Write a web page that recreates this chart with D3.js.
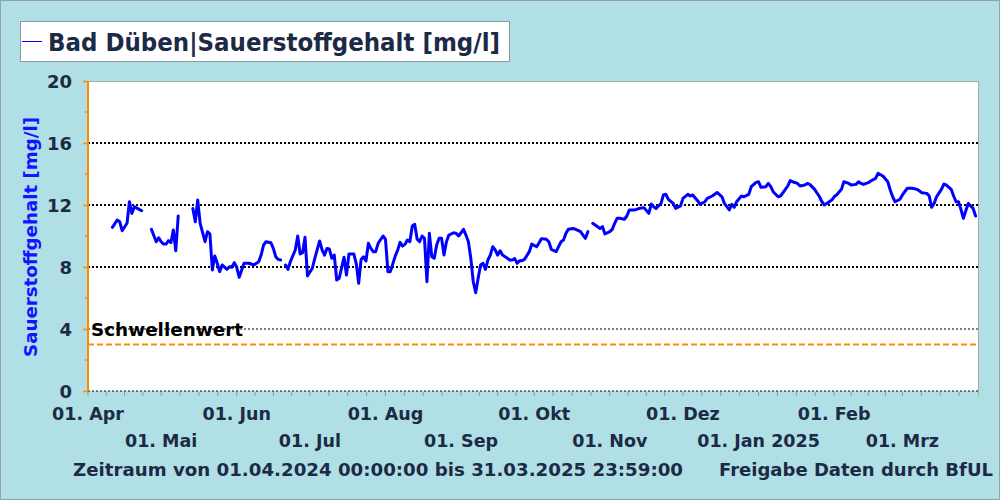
<!DOCTYPE html>
<html><head><meta charset="utf-8">
<script src="https://cdn.jsdelivr.net/npm/d3@7"></script>
<style>body{margin:0;background:#b0dfe5}svg{display:block;font-family:"DejaVu Sans",Verdana,sans-serif;font-weight:bold}</style>
</head><body><svg id="c" width="1000" height="500"></svg>
<script>
// ---- data ----
const startDate = "2024-04-01";
const endDate = "2025-04-01";
// day offset from 01.04.2024 (null value = gap in data)
const days = [10,12,13,14,16,17,18,19,21,22, 24,
 26,28,29,30,31,32,33,34,35,36,37, 40,
 43,44,45,46,48,49,50,51,52,53,54,55,57,58,59,60,61,62,64,65,66,68,70,71,72,73,75,76,77,78,79, 80,
 81,82,83,85,86,87,88,89,90,92,93,95,96,97,98,99,100,101,102,103,105,106,107,109,110,111,112,113,114,115,116,117,118,119,121,122,123,124,126,127,
 128,129,130,131,132,133,134,135,136,137,138,139,140,141,142,143,144,145,146,147,148,150,151,152,154,155,156,157,158,159,160,161,162,163,164,165,166,167,168,169,170,172,173,174,175,176,177,178,179,181,182,184,185,186,188,189,190,192,193,194,195,196,197,199,200,202,203,204,205, 206,
 207,208,209,210,211,212,214,215,216,217,218,220,221,222,224,225,226,228,230,231,232,233,235,236,237,238,240,241,243,244,246,247,248,250,251,
 253,254,256,258,260,261,263,264,265,266,268,269,271,272,274,275,276,278,279,280,281,283,284,285,287,288,289,291,292,294,295,296,298,300,301,302,304,305,306,307,309,310,312,313,315,316,317,318,320,321,323,324,326,328,329,330,331,333,334,336,338,340,342,344,345,346,347,348,350,351,352,354,355,356,357,358,359,360,361,363,364];
const oxygen = [10.56,11.03,10.92,10.34,10.82,12.21,11.46,11.89,11.72,11.63, null,
 10.43,9.63,9.89,9.63,9.48,9.48,9.70,9.57,10.39,9.05,11.29, null,
 11.78,10.92,12.32,10.82,9.63,10.28,10.13,7.81,8.71,8.24,7.70,8.13,7.85,8.02,7.98,8.28,7.98,7.34,8.24,8.24,8.24,8.13,8.34,8.77,9.42,9.63,9.57,9.2,8.66,8.49,8.45, null,
 8.13,7.85,8.34,9.1,10.0,8.84,8.92,9.92,7.42,7.92,8.56,9.68,9.1,8.77,9.2,9.16,8.56,8.77,7.16,7.27,8.63,7.48,8.84,8.84,8.24,6.95,8.49,8.66,8.39,9.53,9.2,8.99,8.99,9.53,10.0,9.79,7.70,7.70,8.7,9.1,
 9.59,9.35,9.46,9.74,9.63,10.65,10.75,9.79,9.63,10.0,9.85,7.05,10.17,8.66,8.56,9.42,9.85,9.85,8.77,9.63,10.06,10.21,10.17,10.0,10.43,10.06,9.63,8.56,7.05,6.34,7.27,8.13,8.24,7.85,8.45,8.77,9.31,9.1,8.77,9.05,8.77,8.56,8.45,8.45,8.54,8.24,8.41,8.41,8.49,8.99,9.48,9.31,9.57,9.83,9.79,9.63,9.14,8.99,9.31,9.63,9.74,10.17,10.43,10.49,10.43,10.28,10.06,9.85,10.28, null,
 10.82,10.71,10.6,10.49,10.6,10.13,10.28,10.43,10.82,11.14,11.14,11.08,11.29,11.68,11.68,11.72,11.78,11.83,11.46,12.06,11.89,11.78,12.1,12.65,12.69,12.37,12.1,11.78,11.94,12.43,12.69,12.58,12.65,12.28,12.04,
 12.21,12.43,12.58,12.81,12.53,12.1,11.68,12.04,11.85,12.21,12.58,12.53,12.69,13.18,13.46,13.5,13.14,13.18,13.39,13.18,12.86,12.53,12.58,12.79,13.23,13.57,13.5,13.39,13.23,13.29,13.39,13.33,13.01,12.53,12.21,12.0,12.21,12.32,12.53,12.65,13.01,13.5,13.39,13.29,13.33,13.5,13.39,13.33,13.44,13.55,13.72,14.04,13.87,13.5,12.97,12.53,12.21,12.37,12.65,13.08,13.08,13.01,12.79,12.75,12.58,11.85,12.1,12.53,13.01,13.35,13.29,13.01,12.58,12.21,12.21,11.72,11.14,11.63,12.1,11.78,11.29];
const yTicks = [0,4,8,12,16,20];
const yMinorTicks = [2,6,10,14,18];
const monthLabels = ["01. Apr","01. Mai","01. Jun","01. Jul","01. Aug","01. Sep","01. Okt","01. Nov","01. Dez","01. Jan 2025","01. Feb","01. Mrz"];
const threshold = 3;
const thresholdLabel = "Schwellenwert";
const titleText = "Bad Düben|Sauerstoffgehalt [mg/l]";
const yTitle = "Sauerstoffgehalt [mg/l]";
const footLeft = "Zeitraum von 01.04.2024 00:00:00 bis 31.03.2025 23:59:00";
const footRight = "Freigabe Daten durch BfUL";

// ---- layout ----
const L = 88, R = 978, T = 81, B = 391;
const navy = "#1c2a45", orange = "#ff8a00";
const svg = d3.select("#c");
svg.append("rect").attr("x",0.5).attr("y",0.5).attr("width",999).attr("height",499)
  .attr("fill","#b0dfe5").attr("stroke","#8fa3a8");

const t0 = d3.utcParse("%Y-%m-%d")(startDate), t1 = d3.utcParse("%Y-%m-%d")(endDate);
const x = d3.scaleUtc().domain([t0,t1]).range([L,R]);
const y = d3.scaleLinear().domain([0,20]).range([B,T]);

svg.append("rect").attr("x",L).attr("y",T).attr("width",R-L).attr("height",B-T).attr("fill","#fff");

// gridlines
const gridG = svg.append("g");
yTicks.filter(v=>v<20).forEach(v=>{
  const thick = v>=8;
  gridG.append("line").attr("x1",L).attr("x2",R).attr("y1",y(v)).attr("y2",y(v))
    .attr("stroke","#000").attr("stroke-width",thick?2:1.2).attr("stroke-dasharray","2,2");
});
// frame top/right
svg.append("line").attr("x1",L).attr("x2",R).attr("y1",T+0.5).attr("y2",T+0.5).attr("stroke","#aaa");
svg.append("line").attr("x1",R+0.5).attr("x2",R+0.5).attr("y1",T).attr("y2",B+5).attr("stroke","#aaa");

// threshold
svg.append("line").attr("x1",L).attr("x2",R).attr("y1",y(threshold)).attr("y2",y(threshold))
  .attr("stroke",orange).attr("stroke-width",2).attr("stroke-dasharray","6,3");
svg.append("text").attr("x",91).attr("y",336).attr("font-size",18.5).attr("fill","#000")
  .attr("textLength",152).attr("lengthAdjust","spacingAndGlyphs").text(thresholdLabel);

// x ticks (month + quarter month)
const months = d3.utcMonth.range(t0, t1);
const xTickG = svg.append("g");
months.forEach(m=>{
  const n = d3.utcMonth.offset(m,1);
  for(let k=0;k<4;k++){
    const t = new Date(+m + (n-m)*k/4);
    xTickG.append("line").attr("x1",x(t)).attr("x2",x(t)).attr("y1",B+1).attr("y2",B+5).attr("stroke","#999");
  }
});
months.forEach((m,i)=>{
  svg.append("text").attr("x",x(m)).attr("y", i%2===0?420:447).attr("text-anchor","middle")
    .attr("font-size",17.5).attr("fill",navy).text(monthLabels[i]);
});

// y axis
const yAxis = svg.append("g").attr("transform",`translate(${L},0)`)
  .call(d3.axisLeft(y).tickValues(yTicks).tickSize(5).tickPadding(11).tickFormat(d3.format("d")));
yAxis.select(".domain").remove();
yAxis.selectAll("line").attr("stroke",orange).attr("stroke-width",1.5);
yAxis.selectAll("text").attr("font-size",18).attr("fill",navy).attr("font-family","DejaVu Sans").attr("font-weight","bold").attr("dy","0.36em");
svg.append("g").selectAll("line").data(yMinorTicks).join("line")
  .attr("x1",L-3).attr("x2",L).attr("y1",d=>y(d)).attr("y2",d=>y(d)).attr("stroke",orange).attr("stroke-width",1.5);
svg.append("line").attr("x1",L).attr("x2",L).attr("y1",T).attr("y2",B).attr("stroke",orange).attr("stroke-width",2);

svg.append("text").attr("transform",`translate(37,237) rotate(-90)`).attr("text-anchor","middle")
  .attr("font-size",18).attr("fill","#1414ff").attr("textLength",240).attr("lengthAdjust","spacingAndGlyphs").text(yTitle);

// data line
const pts = days.map((d,i)=>({t:d3.utcDay.offset(t0,d), v:oxygen[i]}));
const line = d3.line().defined(p=>p.v!==null).x(p=>x(p.t)).y(p=>y(p.v));
svg.append("path").datum(pts).attr("d",line).attr("fill","none").attr("stroke","#0000ff")
  .attr("stroke-width",3).attr("stroke-linejoin","round").attr("stroke-linecap","round");

// legend / title box
svg.append("rect").attr("x",20.5).attr("y",21.5).attr("width",489).attr("height",40).attr("fill","#fff").attr("stroke","#8a9a9e");
svg.append("line").attr("x1",22).attr("x2",42).attr("y1",41.5).attr("y2",41.5).attr("stroke","#0000ff");
svg.append("text").attr("x",48).attr("y",51).attr("font-size",25).attr("fill",navy)
  .attr("textLength",452).attr("lengthAdjust","spacingAndGlyphs").text(titleText);

// footer
svg.append("text").attr("x",73).attr("y",476).attr("font-size",17.5).attr("fill",navy)
  .attr("textLength",610).attr("lengthAdjust","spacingAndGlyphs").text(footLeft);
svg.append("text").attr("x",993).attr("y",476).attr("text-anchor","end").attr("font-size",17.5).attr("fill",navy)
  .attr("textLength",274).attr("lengthAdjust","spacingAndGlyphs").text(footRight);
</script></body></html>
